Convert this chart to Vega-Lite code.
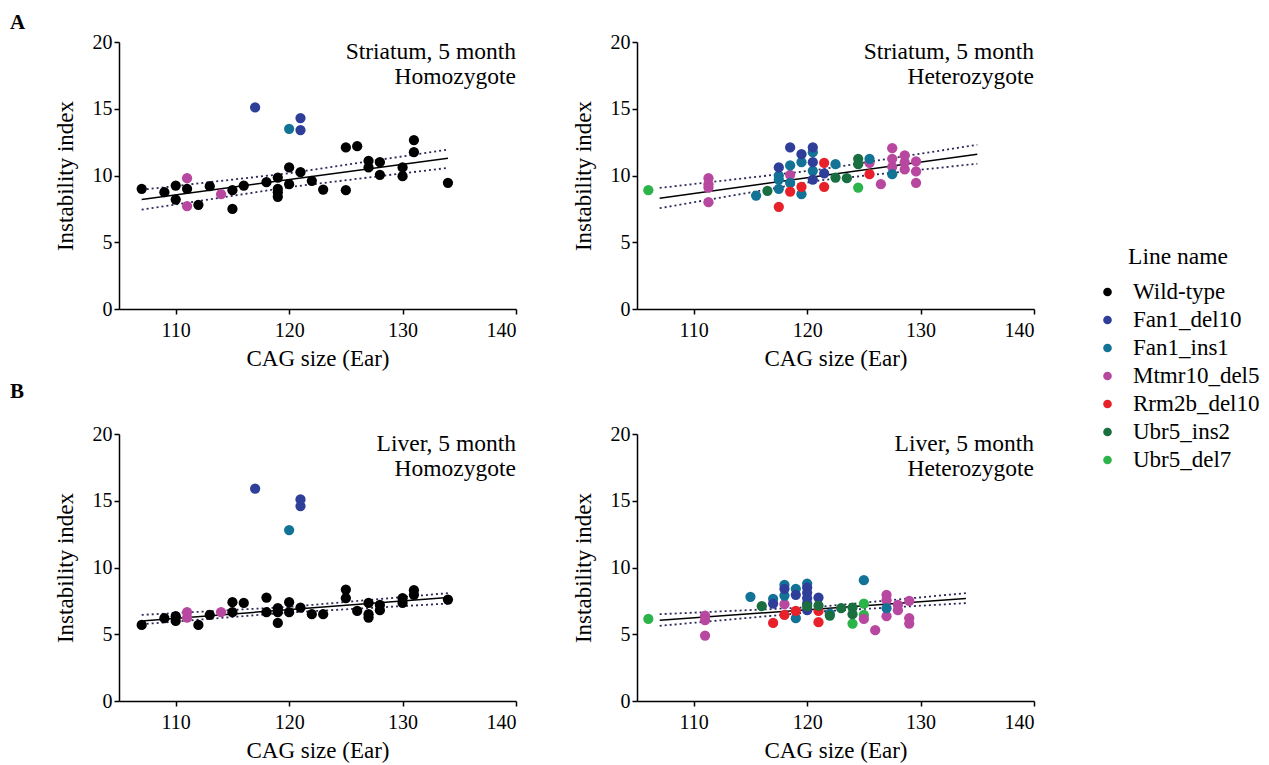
{
  "$schema": "https://vega.github.io/schema/vega-lite/v6.json",
  "padding": {"left": 10, "top": 12, "right": 5, "bottom": 5},
  "config": {
    "font": "Liberation Serif, Times New Roman, serif",
    "view": {"stroke": null},
    "axis": {"domainColor": "black", "domainWidth": 1.5, "tickColor": "black", "tickWidth": 1.5, "tickSize": 5, "labelFont": "Liberation Serif, Times New Roman, serif", "labelFontSize": 20, "labelColor": "black", "titleFont": "Liberation Serif, Times New Roman, serif", "titleFontSize": 23, "titleFontWeight": "normal", "titleColor": "black", "grid": false},
    "axisX": {"labelPadding": 6, "titlePadding": 7},
    "axisY": {"labelPadding": 2, "titlePadding": 15},
    "title": {"font": "Liberation Serif, Times New Roman, serif", "fontSize": 21, "fontWeight": "bold", "color": "black"},
    "legend": {"orient": "none", "legendX": 977, "legendY": 203, "titleFont": "Liberation Serif, Times New Roman, serif", "titleFontSize": 23.5, "titleFontWeight": "normal", "titleColor": "black", "labelFont": "Liberation Serif, Times New Roman, serif", "labelFontSize": 23, "labelColor": "black", "symbolSize": 75, "rowPadding": 4, "titlePadding": 12, "titleAnchor": "middle", "labelOffset": 14}
  },
  "datasets": {
    "points": [
      {"panel": "A1", "line": "Wild-type", "cag": 107, "ii": 9.0},
      {"panel": "A1", "line": "Wild-type", "cag": 109, "ii": 8.75},
      {"panel": "A1", "line": "Wild-type", "cag": 110, "ii": 9.25},
      {"panel": "A1", "line": "Wild-type", "cag": 110, "ii": 8.2},
      {"panel": "A1", "line": "Wild-type", "cag": 111, "ii": 9.0},
      {"panel": "A1", "line": "Wild-type", "cag": 112, "ii": 7.8},
      {"panel": "A1", "line": "Wild-type", "cag": 113, "ii": 9.2},
      {"panel": "A1", "line": "Wild-type", "cag": 115, "ii": 8.9},
      {"panel": "A1", "line": "Wild-type", "cag": 115, "ii": 7.5},
      {"panel": "A1", "line": "Wild-type", "cag": 116, "ii": 9.25},
      {"panel": "A1", "line": "Wild-type", "cag": 118, "ii": 9.5},
      {"panel": "A1", "line": "Wild-type", "cag": 119, "ii": 9.85},
      {"panel": "A1", "line": "Wild-type", "cag": 119, "ii": 9.0},
      {"panel": "A1", "line": "Wild-type", "cag": 119, "ii": 8.75},
      {"panel": "A1", "line": "Wild-type", "cag": 119, "ii": 8.4},
      {"panel": "A1", "line": "Wild-type", "cag": 120, "ii": 10.6},
      {"panel": "A1", "line": "Wild-type", "cag": 120, "ii": 9.35},
      {"panel": "A1", "line": "Wild-type", "cag": 121, "ii": 10.25},
      {"panel": "A1", "line": "Wild-type", "cag": 122, "ii": 9.6},
      {"panel": "A1", "line": "Wild-type", "cag": 123, "ii": 8.95},
      {"panel": "A1", "line": "Wild-type", "cag": 125, "ii": 12.1},
      {"panel": "A1", "line": "Wild-type", "cag": 125, "ii": 8.9},
      {"panel": "A1", "line": "Wild-type", "cag": 126, "ii": 12.2},
      {"panel": "A1", "line": "Wild-type", "cag": 127, "ii": 11.1},
      {"panel": "A1", "line": "Wild-type", "cag": 127, "ii": 10.6},
      {"panel": "A1", "line": "Wild-type", "cag": 128, "ii": 11.0},
      {"panel": "A1", "line": "Wild-type", "cag": 128, "ii": 10.05},
      {"panel": "A1", "line": "Wild-type", "cag": 130, "ii": 10.6},
      {"panel": "A1", "line": "Wild-type", "cag": 130, "ii": 9.95},
      {"panel": "A1", "line": "Wild-type", "cag": 131, "ii": 12.65},
      {"panel": "A1", "line": "Wild-type", "cag": 131, "ii": 11.75},
      {"panel": "A1", "line": "Wild-type", "cag": 134, "ii": 9.45},
      {"panel": "A1", "line": "Mtmr10_del5", "cag": 111, "ii": 9.8},
      {"panel": "A1", "line": "Mtmr10_del5", "cag": 111, "ii": 7.7},
      {"panel": "A1", "line": "Mtmr10_del5", "cag": 114, "ii": 8.6},
      {"panel": "A1", "line": "Fan1_del10", "cag": 117, "ii": 15.1},
      {"panel": "A1", "line": "Fan1_del10", "cag": 121, "ii": 14.3},
      {"panel": "A1", "line": "Fan1_del10", "cag": 121, "ii": 13.4},
      {"panel": "A1", "line": "Fan1_ins1", "cag": 120, "ii": 13.5},

      {"panel": "A2", "line": "Ubr5_del7", "cag": 106, "ii": 8.9},
      {"panel": "A2", "line": "Ubr5_del7", "cag": 124.5, "ii": 9.1},
      {"panel": "A2", "line": "Mtmr10_del5", "cag": 111.3, "ii": 9.8},
      {"panel": "A2", "line": "Mtmr10_del5", "cag": 111.3, "ii": 9.35},
      {"panel": "A2", "line": "Mtmr10_del5", "cag": 111.3, "ii": 9.1},
      {"panel": "A2", "line": "Mtmr10_del5", "cag": 111.3, "ii": 8.0},
      {"panel": "A2", "line": "Mtmr10_del5", "cag": 118.5, "ii": 10.05},
      {"panel": "A2", "line": "Mtmr10_del5", "cag": 125.5, "ii": 10.95},
      {"panel": "A2", "line": "Mtmr10_del5", "cag": 126.5, "ii": 9.35},
      {"panel": "A2", "line": "Mtmr10_del5", "cag": 127.5, "ii": 12.05},
      {"panel": "A2", "line": "Mtmr10_del5", "cag": 127.5, "ii": 11.25},
      {"panel": "A2", "line": "Mtmr10_del5", "cag": 127.5, "ii": 10.65},
      {"panel": "A2", "line": "Mtmr10_del5", "cag": 128.6, "ii": 11.5},
      {"panel": "A2", "line": "Mtmr10_del5", "cag": 128.6, "ii": 11.0},
      {"panel": "A2", "line": "Mtmr10_del5", "cag": 128.6, "ii": 10.45},
      {"panel": "A2", "line": "Mtmr10_del5", "cag": 129.6, "ii": 11.05},
      {"panel": "A2", "line": "Mtmr10_del5", "cag": 129.6, "ii": 10.3},
      {"panel": "A2", "line": "Mtmr10_del5", "cag": 129.6, "ii": 9.45},
      {"panel": "A2", "line": "Fan1_ins1", "cag": 115.5, "ii": 8.5},
      {"panel": "A2", "line": "Fan1_ins1", "cag": 117.5, "ii": 10.0},
      {"panel": "A2", "line": "Fan1_ins1", "cag": 117.5, "ii": 9.7},
      {"panel": "A2", "line": "Fan1_ins1", "cag": 117.5, "ii": 9.0},
      {"panel": "A2", "line": "Fan1_ins1", "cag": 118.5, "ii": 10.75},
      {"panel": "A2", "line": "Fan1_ins1", "cag": 118.5, "ii": 9.45},
      {"panel": "A2", "line": "Fan1_ins1", "cag": 119.5, "ii": 11.0},
      {"panel": "A2", "line": "Fan1_ins1", "cag": 119.5, "ii": 8.6},
      {"panel": "A2", "line": "Fan1_ins1", "cag": 120.5, "ii": 11.75},
      {"panel": "A2", "line": "Fan1_ins1", "cag": 120.5, "ii": 10.35},
      {"panel": "A2", "line": "Fan1_ins1", "cag": 122.5, "ii": 10.85},
      {"panel": "A2", "line": "Fan1_ins1", "cag": 125.5, "ii": 11.25},
      {"panel": "A2", "line": "Fan1_ins1", "cag": 127.5, "ii": 10.1},
      {"panel": "A2", "line": "Fan1_del10", "cag": 117.5, "ii": 10.6},
      {"panel": "A2", "line": "Fan1_del10", "cag": 118.5, "ii": 12.1},
      {"panel": "A2", "line": "Fan1_del10", "cag": 119.5, "ii": 11.6},
      {"panel": "A2", "line": "Fan1_del10", "cag": 120.5, "ii": 12.1},
      {"panel": "A2", "line": "Fan1_del10", "cag": 120.5, "ii": 11.0},
      {"panel": "A2", "line": "Fan1_del10", "cag": 120.5, "ii": 9.7},
      {"panel": "A2", "line": "Fan1_del10", "cag": 121.5, "ii": 10.15},
      {"panel": "A2", "line": "Rrm2b_del10", "cag": 117.5, "ii": 7.65},
      {"panel": "A2", "line": "Rrm2b_del10", "cag": 118.5, "ii": 8.8},
      {"panel": "A2", "line": "Rrm2b_del10", "cag": 119.5, "ii": 9.15},
      {"panel": "A2", "line": "Rrm2b_del10", "cag": 121.5, "ii": 10.95},
      {"panel": "A2", "line": "Rrm2b_del10", "cag": 121.5, "ii": 9.15},
      {"panel": "A2", "line": "Rrm2b_del10", "cag": 125.5, "ii": 10.1},
      {"panel": "A2", "line": "Ubr5_ins2", "cag": 116.5, "ii": 8.85},
      {"panel": "A2", "line": "Ubr5_ins2", "cag": 122.5, "ii": 9.85},
      {"panel": "A2", "line": "Ubr5_ins2", "cag": 123.5, "ii": 9.8},
      {"panel": "A2", "line": "Ubr5_ins2", "cag": 124.5, "ii": 11.25},
      {"panel": "A2", "line": "Ubr5_ins2", "cag": 124.5, "ii": 10.85},

      {"panel": "B1", "line": "Wild-type", "cag": 107, "ii": 5.7},
      {"panel": "B1", "line": "Wild-type", "cag": 109, "ii": 6.2},
      {"panel": "B1", "line": "Wild-type", "cag": 110, "ii": 6.35},
      {"panel": "B1", "line": "Wild-type", "cag": 110, "ii": 6.0},
      {"panel": "B1", "line": "Wild-type", "cag": 112, "ii": 5.7},
      {"panel": "B1", "line": "Wild-type", "cag": 113, "ii": 6.45},
      {"panel": "B1", "line": "Wild-type", "cag": 115, "ii": 7.4},
      {"panel": "B1", "line": "Wild-type", "cag": 115, "ii": 6.65},
      {"panel": "B1", "line": "Wild-type", "cag": 116, "ii": 7.35},
      {"panel": "B1", "line": "Wild-type", "cag": 118, "ii": 7.75},
      {"panel": "B1", "line": "Wild-type", "cag": 118, "ii": 6.65},
      {"panel": "B1", "line": "Wild-type", "cag": 119, "ii": 6.95},
      {"panel": "B1", "line": "Wild-type", "cag": 119, "ii": 6.65},
      {"panel": "B1", "line": "Wild-type", "cag": 119, "ii": 5.85},
      {"panel": "B1", "line": "Wild-type", "cag": 120, "ii": 7.4},
      {"panel": "B1", "line": "Wild-type", "cag": 120, "ii": 6.65},
      {"panel": "B1", "line": "Wild-type", "cag": 121, "ii": 7.0},
      {"panel": "B1", "line": "Wild-type", "cag": 122, "ii": 6.5},
      {"panel": "B1", "line": "Wild-type", "cag": 123, "ii": 6.5},
      {"panel": "B1", "line": "Wild-type", "cag": 125, "ii": 8.35},
      {"panel": "B1", "line": "Wild-type", "cag": 125, "ii": 7.7},
      {"panel": "B1", "line": "Wild-type", "cag": 126, "ii": 6.75},
      {"panel": "B1", "line": "Wild-type", "cag": 127, "ii": 7.35},
      {"panel": "B1", "line": "Wild-type", "cag": 127, "ii": 6.5},
      {"panel": "B1", "line": "Wild-type", "cag": 127, "ii": 6.25},
      {"panel": "B1", "line": "Wild-type", "cag": 128, "ii": 7.2},
      {"panel": "B1", "line": "Wild-type", "cag": 128, "ii": 6.8},
      {"panel": "B1", "line": "Wild-type", "cag": 130, "ii": 7.7},
      {"panel": "B1", "line": "Wild-type", "cag": 130, "ii": 7.35},
      {"panel": "B1", "line": "Wild-type", "cag": 131, "ii": 8.3},
      {"panel": "B1", "line": "Wild-type", "cag": 131, "ii": 7.95},
      {"panel": "B1", "line": "Wild-type", "cag": 134, "ii": 7.6},
      {"panel": "B1", "line": "Mtmr10_del5", "cag": 111, "ii": 6.65},
      {"panel": "B1", "line": "Mtmr10_del5", "cag": 111, "ii": 6.25},
      {"panel": "B1", "line": "Mtmr10_del5", "cag": 114, "ii": 6.65},
      {"panel": "B1", "line": "Fan1_del10", "cag": 117, "ii": 15.9},
      {"panel": "B1", "line": "Fan1_del10", "cag": 121, "ii": 15.1},
      {"panel": "B1", "line": "Fan1_del10", "cag": 121, "ii": 14.6},
      {"panel": "B1", "line": "Fan1_ins1", "cag": 120, "ii": 12.8},

      {"panel": "B2", "line": "Ubr5_del7", "cag": 106, "ii": 6.15},
      {"panel": "B2", "line": "Ubr5_del7", "cag": 124, "ii": 5.8},
      {"panel": "B2", "line": "Ubr5_del7", "cag": 125, "ii": 7.3},
      {"panel": "B2", "line": "Ubr5_del7", "cag": 125, "ii": 6.45},
      {"panel": "B2", "line": "Mtmr10_del5", "cag": 111, "ii": 6.4},
      {"panel": "B2", "line": "Mtmr10_del5", "cag": 111, "ii": 6.05},
      {"panel": "B2", "line": "Mtmr10_del5", "cag": 111, "ii": 4.9},
      {"panel": "B2", "line": "Mtmr10_del5", "cag": 118, "ii": 7.25},
      {"panel": "B2", "line": "Mtmr10_del5", "cag": 125, "ii": 6.15},
      {"panel": "B2", "line": "Mtmr10_del5", "cag": 126, "ii": 5.3},
      {"panel": "B2", "line": "Mtmr10_del5", "cag": 127, "ii": 7.95},
      {"panel": "B2", "line": "Mtmr10_del5", "cag": 127, "ii": 7.55},
      {"panel": "B2", "line": "Mtmr10_del5", "cag": 127, "ii": 6.35},
      {"panel": "B2", "line": "Mtmr10_del5", "cag": 128, "ii": 7.2},
      {"panel": "B2", "line": "Mtmr10_del5", "cag": 128, "ii": 6.8},
      {"panel": "B2", "line": "Mtmr10_del5", "cag": 129, "ii": 7.5},
      {"panel": "B2", "line": "Mtmr10_del5", "cag": 129, "ii": 6.2},
      {"panel": "B2", "line": "Mtmr10_del5", "cag": 129, "ii": 5.8},
      {"panel": "B2", "line": "Fan1_ins1", "cag": 115, "ii": 7.8},
      {"panel": "B2", "line": "Fan1_ins1", "cag": 117, "ii": 7.65},
      {"panel": "B2", "line": "Fan1_ins1", "cag": 118, "ii": 8.7},
      {"panel": "B2", "line": "Fan1_ins1", "cag": 118, "ii": 7.9},
      {"panel": "B2", "line": "Fan1_ins1", "cag": 119, "ii": 8.4},
      {"panel": "B2", "line": "Fan1_ins1", "cag": 119, "ii": 6.2},
      {"panel": "B2", "line": "Fan1_ins1", "cag": 120, "ii": 8.8},
      {"panel": "B2", "line": "Fan1_ins1", "cag": 122, "ii": 6.55},
      {"panel": "B2", "line": "Fan1_ins1", "cag": 125, "ii": 9.05},
      {"panel": "B2", "line": "Fan1_ins1", "cag": 127, "ii": 6.95},
      {"panel": "B2", "line": "Fan1_del10", "cag": 117, "ii": 7.3},
      {"panel": "B2", "line": "Fan1_del10", "cag": 118, "ii": 8.4},
      {"panel": "B2", "line": "Fan1_del10", "cag": 119, "ii": 7.95},
      {"panel": "B2", "line": "Fan1_del10", "cag": 120, "ii": 8.5},
      {"panel": "B2", "line": "Fan1_del10", "cag": 120, "ii": 8.1},
      {"panel": "B2", "line": "Fan1_del10", "cag": 120, "ii": 7.7},
      {"panel": "B2", "line": "Fan1_del10", "cag": 120, "ii": 7.3},
      {"panel": "B2", "line": "Fan1_del10", "cag": 120, "ii": 6.8},
      {"panel": "B2", "line": "Fan1_del10", "cag": 121, "ii": 7.75},
      {"panel": "B2", "line": "Rrm2b_del10", "cag": 117, "ii": 5.85},
      {"panel": "B2", "line": "Rrm2b_del10", "cag": 118, "ii": 6.45},
      {"panel": "B2", "line": "Rrm2b_del10", "cag": 119, "ii": 6.75},
      {"panel": "B2", "line": "Rrm2b_del10", "cag": 121, "ii": 6.75},
      {"panel": "B2", "line": "Rrm2b_del10", "cag": 121, "ii": 5.9},
      {"panel": "B2", "line": "Ubr5_ins2", "cag": 116, "ii": 7.1},
      {"panel": "B2", "line": "Ubr5_ins2", "cag": 120, "ii": 7.1},
      {"panel": "B2", "line": "Ubr5_ins2", "cag": 121, "ii": 7.15},
      {"panel": "B2", "line": "Ubr5_ins2", "cag": 122, "ii": 6.4},
      {"panel": "B2", "line": "Ubr5_ins2", "cag": 123, "ii": 6.95},
      {"panel": "B2", "line": "Ubr5_ins2", "cag": 124, "ii": 7.0},
      {"panel": "B2", "line": "Ubr5_ins2", "cag": 124, "ii": 6.5}
    ],
    "fits": [
      {"panel": "A1", "kind": "fit", "cag": 107, "ii": 8.2},
      {"panel": "A1", "kind": "fit", "cag": 134, "ii": 11.3},
      {"panel": "A1", "kind": "upper", "cag": 107, "ii": 8.93},
      {"panel": "A1", "kind": "upper", "cag": 120, "ii": 10.17},
      {"panel": "A1", "kind": "upper", "cag": 134, "ii": 11.94},
      {"panel": "A1", "kind": "lower", "cag": 107, "ii": 7.44},
      {"panel": "A1", "kind": "lower", "cag": 120, "ii": 9.13},
      {"panel": "A1", "kind": "lower", "cag": 134, "ii": 10.57},
      {"panel": "A2", "kind": "fit", "cag": 107, "ii": 8.3},
      {"panel": "A2", "kind": "fit", "cag": 135, "ii": 11.6},
      {"panel": "A2", "kind": "upper", "cag": 107, "ii": 9.07},
      {"panel": "A2", "kind": "upper", "cag": 121, "ii": 10.43},
      {"panel": "A2", "kind": "upper", "cag": 135, "ii": 12.3},
      {"panel": "A2", "kind": "lower", "cag": 107, "ii": 7.55},
      {"panel": "A2", "kind": "lower", "cag": 121, "ii": 9.62},
      {"panel": "A2", "kind": "lower", "cag": 135, "ii": 10.88},
      {"panel": "B1", "kind": "fit", "cag": 107, "ii": 6.0},
      {"panel": "B1", "kind": "fit", "cag": 134, "ii": 7.75},
      {"panel": "B1", "kind": "upper", "cag": 107, "ii": 6.45},
      {"panel": "B1", "kind": "upper", "cag": 120, "ii": 7.05},
      {"panel": "B1", "kind": "upper", "cag": 134, "ii": 8.08},
      {"panel": "B1", "kind": "lower", "cag": 107, "ii": 5.75},
      {"panel": "B1", "kind": "lower", "cag": 120, "ii": 6.63},
      {"panel": "B1", "kind": "lower", "cag": 134, "ii": 7.3},
      {"panel": "B2", "kind": "fit", "cag": 107, "ii": 6.05},
      {"panel": "B2", "kind": "fit", "cag": 134, "ii": 7.67},
      {"panel": "B2", "kind": "upper", "cag": 107, "ii": 6.5},
      {"panel": "B2", "kind": "upper", "cag": 121, "ii": 7.05},
      {"panel": "B2", "kind": "upper", "cag": 134, "ii": 8.08},
      {"panel": "B2", "kind": "lower", "cag": 107, "ii": 5.63},
      {"panel": "B2", "kind": "lower", "cag": 121, "ii": 6.7},
      {"panel": "B2", "kind": "lower", "cag": 134, "ii": 7.33}
    ],
    "labels": [
      {"panel": "A1", "label": "Striatum, 5 month\nHomozygote"},
      {"panel": "A2", "label": "Striatum, 5 month\nHeterozygote"},
      {"panel": "B1", "label": "Liver, 5 month\nHomozygote"},
      {"panel": "B2", "label": "Liver, 5 month\nHeterozygote"}
    ]
  },
  "spacing": 11,
  "vconcat": [
    {
      "title": {"text": "A", "anchor": "start", "dx": -44, "offset": -1},
      "spacing": 55,
      "hconcat": [
        {
          "width": 397, "height": 267,
          "layer": [
            {"data": {"name": "fits"}, "transform": [{"filter": "datum.panel === 'A1' && datum.kind !== 'fit'"}], "mark": {"type": "line", "strokeDash": [2, 3], "strokeWidth": 1.8, "color": "#2a2a5a"}, "encoding": {"x": {"field": "cag", "type": "quantitative"}, "y": {"field": "ii", "type": "quantitative"}, "detail": {"field": "kind"}}},
            {"data": {"name": "fits"}, "transform": [{"filter": "datum.panel === 'A1' && datum.kind === 'fit'"}], "mark": {"type": "line", "strokeWidth": 1.5, "color": "black"}, "encoding": {"x": {"field": "cag", "type": "quantitative"}, "y": {"field": "ii", "type": "quantitative"}}},
            {"data": {"name": "points"}, "transform": [{"filter": "datum.panel === 'A1'"}], "mark": {"type": "circle", "size": 105, "opacity": 1},
             "encoding": {
               "x": {"field": "cag", "type": "quantitative", "scale": {"domain": [105, 140], "nice": false, "zero": false}, "axis": {"values": [110, 120, 130, 140], "title": "CAG size (Ear)"}},
               "y": {"field": "ii", "type": "quantitative", "scale": {"domain": [0, 20], "nice": false}, "axis": {"values": [0, 5, 10, 15, 20], "title": "Instability index"}},
               "color": {"field": "line", "type": "nominal", "title": "Line name", "scale": {"domain": ["Wild-type", "Fan1_del10", "Fan1_ins1", "Mtmr10_del5", "Rrm2b_del10", "Ubr5_ins2", "Ubr5_del7"], "range": ["#000000", "#2f3f99", "#137397", "#b8479f", "#e8202a", "#1a6e40", "#2cb34a"]}}
             }},
            {"data": {"name": "labels"}, "transform": [{"filter": "datum.panel === 'A1'"}], "mark": {"type": "text", "align": "right", "baseline": "top", "fontSize": 23.5, "lineHeight": 25, "dy": -2, "lineBreak": "\n", "color": "black"}, "encoding": {"x": {"datum": 140}, "y": {"datum": 20}, "text": {"field": "label"}}}
          ]
        },
        {
          "width": 397, "height": 267,
          "layer": [
            {"data": {"name": "fits"}, "transform": [{"filter": "datum.panel === 'A2' && datum.kind !== 'fit'"}], "mark": {"type": "line", "strokeDash": [2, 3], "strokeWidth": 1.8, "color": "#2a2a5a"}, "encoding": {"x": {"field": "cag", "type": "quantitative"}, "y": {"field": "ii", "type": "quantitative"}, "detail": {"field": "kind"}}},
            {"data": {"name": "fits"}, "transform": [{"filter": "datum.panel === 'A2' && datum.kind === 'fit'"}], "mark": {"type": "line", "strokeWidth": 1.5, "color": "black"}, "encoding": {"x": {"field": "cag", "type": "quantitative"}, "y": {"field": "ii", "type": "quantitative"}}},
            {"data": {"name": "points"}, "transform": [{"filter": "datum.panel === 'A2'"}], "mark": {"type": "circle", "size": 105, "opacity": 1},
             "encoding": {
               "x": {"field": "cag", "type": "quantitative", "scale": {"domain": [105, 140], "nice": false, "zero": false}, "axis": {"values": [110, 120, 130, 140], "title": "CAG size (Ear)"}},
               "y": {"field": "ii", "type": "quantitative", "scale": {"domain": [0, 20], "nice": false}, "axis": {"values": [0, 5, 10, 15, 20], "title": "Instability index"}},
               "color": {"field": "line", "type": "nominal", "title": "Line name", "scale": {"domain": ["Wild-type", "Fan1_del10", "Fan1_ins1", "Mtmr10_del5", "Rrm2b_del10", "Ubr5_ins2", "Ubr5_del7"], "range": ["#000000", "#2f3f99", "#137397", "#b8479f", "#e8202a", "#1a6e40", "#2cb34a"]}}
             }},
            {"data": {"name": "labels"}, "transform": [{"filter": "datum.panel === 'A2'"}], "mark": {"type": "text", "align": "right", "baseline": "top", "fontSize": 23.5, "lineHeight": 25, "dy": -2, "lineBreak": "\n", "color": "black"}, "encoding": {"x": {"datum": 140}, "y": {"datum": 20}, "text": {"field": "label"}}}
          ]
        }
      ]
    },
    {
      "title": {"text": "B", "anchor": "start", "dx": -44, "offset": 22},
      "spacing": 55,
      "hconcat": [
        {
          "width": 397, "height": 267,
          "layer": [
            {"data": {"name": "fits"}, "transform": [{"filter": "datum.panel === 'B1' && datum.kind !== 'fit'"}], "mark": {"type": "line", "strokeDash": [2, 3], "strokeWidth": 1.8, "color": "#2a2a5a"}, "encoding": {"x": {"field": "cag", "type": "quantitative"}, "y": {"field": "ii", "type": "quantitative"}, "detail": {"field": "kind"}}},
            {"data": {"name": "fits"}, "transform": [{"filter": "datum.panel === 'B1' && datum.kind === 'fit'"}], "mark": {"type": "line", "strokeWidth": 1.5, "color": "black"}, "encoding": {"x": {"field": "cag", "type": "quantitative"}, "y": {"field": "ii", "type": "quantitative"}}},
            {"data": {"name": "points"}, "transform": [{"filter": "datum.panel === 'B1'"}], "mark": {"type": "circle", "size": 105, "opacity": 1},
             "encoding": {
               "x": {"field": "cag", "type": "quantitative", "scale": {"domain": [105, 140], "nice": false, "zero": false}, "axis": {"values": [110, 120, 130, 140], "title": "CAG size (Ear)"}},
               "y": {"field": "ii", "type": "quantitative", "scale": {"domain": [0, 20], "nice": false}, "axis": {"values": [0, 5, 10, 15, 20], "title": "Instability index"}},
               "color": {"field": "line", "type": "nominal", "title": "Line name", "scale": {"domain": ["Wild-type", "Fan1_del10", "Fan1_ins1", "Mtmr10_del5", "Rrm2b_del10", "Ubr5_ins2", "Ubr5_del7"], "range": ["#000000", "#2f3f99", "#137397", "#b8479f", "#e8202a", "#1a6e40", "#2cb34a"]}}
             }},
            {"data": {"name": "labels"}, "transform": [{"filter": "datum.panel === 'B1'"}], "mark": {"type": "text", "align": "right", "baseline": "top", "fontSize": 23.5, "lineHeight": 25, "dy": -2, "lineBreak": "\n", "color": "black"}, "encoding": {"x": {"datum": 140}, "y": {"datum": 20}, "text": {"field": "label"}}}
          ]
        },
        {
          "width": 397, "height": 267,
          "layer": [
            {"data": {"name": "fits"}, "transform": [{"filter": "datum.panel === 'B2' && datum.kind !== 'fit'"}], "mark": {"type": "line", "strokeDash": [2, 3], "strokeWidth": 1.8, "color": "#2a2a5a"}, "encoding": {"x": {"field": "cag", "type": "quantitative"}, "y": {"field": "ii", "type": "quantitative"}, "detail": {"field": "kind"}}},
            {"data": {"name": "fits"}, "transform": [{"filter": "datum.panel === 'B2' && datum.kind === 'fit'"}], "mark": {"type": "line", "strokeWidth": 1.5, "color": "black"}, "encoding": {"x": {"field": "cag", "type": "quantitative"}, "y": {"field": "ii", "type": "quantitative"}}},
            {"data": {"name": "points"}, "transform": [{"filter": "datum.panel === 'B2'"}], "mark": {"type": "circle", "size": 105, "opacity": 1},
             "encoding": {
               "x": {"field": "cag", "type": "quantitative", "scale": {"domain": [105, 140], "nice": false, "zero": false}, "axis": {"values": [110, 120, 130, 140], "title": "CAG size (Ear)"}},
               "y": {"field": "ii", "type": "quantitative", "scale": {"domain": [0, 20], "nice": false}, "axis": {"values": [0, 5, 10, 15, 20], "title": "Instability index"}},
               "color": {"field": "line", "type": "nominal", "title": "Line name", "scale": {"domain": ["Wild-type", "Fan1_del10", "Fan1_ins1", "Mtmr10_del5", "Rrm2b_del10", "Ubr5_ins2", "Ubr5_del7"], "range": ["#000000", "#2f3f99", "#137397", "#b8479f", "#e8202a", "#1a6e40", "#2cb34a"]}}
             }},
            {"data": {"name": "labels"}, "transform": [{"filter": "datum.panel === 'B2'"}], "mark": {"type": "text", "align": "right", "baseline": "top", "fontSize": 23.5, "lineHeight": 25, "dy": -2, "lineBreak": "\n", "color": "black"}, "encoding": {"x": {"datum": 140}, "y": {"datum": 20}, "text": {"field": "label"}}}
          ]
        }
      ]
    }
  ]
}
